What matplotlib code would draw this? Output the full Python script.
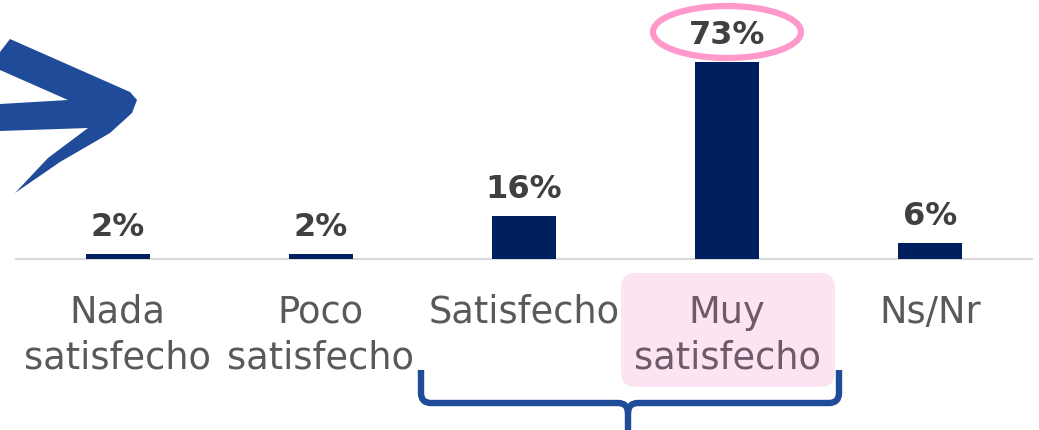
import matplotlib.pyplot as plt
from matplotlib.patches import Polygon, Ellipse, FancyBboxPatch, PathPatch
from matplotlib.path import Path

categories = ["Nada\nsatisfecho", "Poco\nsatisfecho", "Satisfecho", "Muy\nsatisfecho", "Ns/Nr"]
values = [2, 2, 16, 73, 6]

W, H = 1039, 430
fig = plt.figure(figsize=(W / 100, H / 100), dpi=100)

# overlay in pixel coordinates for the decorations (arrow, ellipse, box, brace)
deco = fig.add_axes([0, 0, 1, 1])
deco.set_xlim(0, W)
deco.set_ylim(H, 0)
deco.axis("off")
deco.set_zorder(0)

blue = "#1f4b98"
arrow = [(0, 52), (10, 39), (130, 92), (137, 100), (132, 113), (110, 133),
         (60, 162), (15, 193), (48, 158), (88, 128), (0, 131), (0, 104),
         (68, 100), (0, 70)]
deco.add_patch(Polygon(arrow, closed=True, color=blue, lw=0))

deco.add_patch(FancyBboxPatch((636, 288), 184, 84, boxstyle="round,pad=15",
                              fc="#fde4f2", ec="none"))
deco.add_patch(Ellipse((727, 32), 148, 52, fill=False, ec="#ff99cc", lw=4.5))

verts = [(421, 370), (421, 393), (421, 403), (431, 403), (618, 403), (628, 403), (628, 413),
         (628, 432),
         (839, 370), (839, 393), (839, 403), (829, 403), (638, 403), (628, 403), (628, 413)]
codes = [Path.MOVETO, Path.LINETO, Path.CURVE3, Path.CURVE3, Path.LINETO, Path.CURVE3, Path.CURVE3,
         Path.LINETO,
         Path.MOVETO, Path.LINETO, Path.CURVE3, Path.CURVE3, Path.LINETO, Path.CURVE3, Path.CURVE3]
deco.add_patch(PathPatch(Path(verts, codes), fill=False, ec=blue, lw=4.6,
                         capstyle="butt", joinstyle="round"))

# main bar chart
ax = fig.add_axes([16 / W, 171 / H, 1016 / W, 259 / H])
ax.set_zorder(1)
ax.patch.set_visible(False)
x = range(len(categories))
ax.bar(x, values, width=0.315, color="#001f5f", zorder=3)
ax.set_xlim(-0.5, 4.5)
ax.set_ylim(0, 95.9)

for i, v in zip(x, values):
    ax.annotate(f"{v}%", (i, v), xytext=(0, 7.5), textcoords="offset points",
                ha="center", va="bottom", fontsize=23, fontweight="bold", color="#404040")

ax.set_xticks(list(x))
ax.set_xticklabels(categories, fontsize=26.5, color="#595959", linespacing=1.3)
ax.get_xticklabels()[3].set_color("#6e5a68")
ax.tick_params(axis="x", length=0, pad=25)
ax.set_yticks([])
for s in ["top", "left", "right"]:
    ax.spines[s].set_visible(False)
ax.spines["bottom"].set_color("#d9d9d9")
ax.spines["bottom"].set_linewidth(1.5)

fig.savefig("out.png", dpi=100)
